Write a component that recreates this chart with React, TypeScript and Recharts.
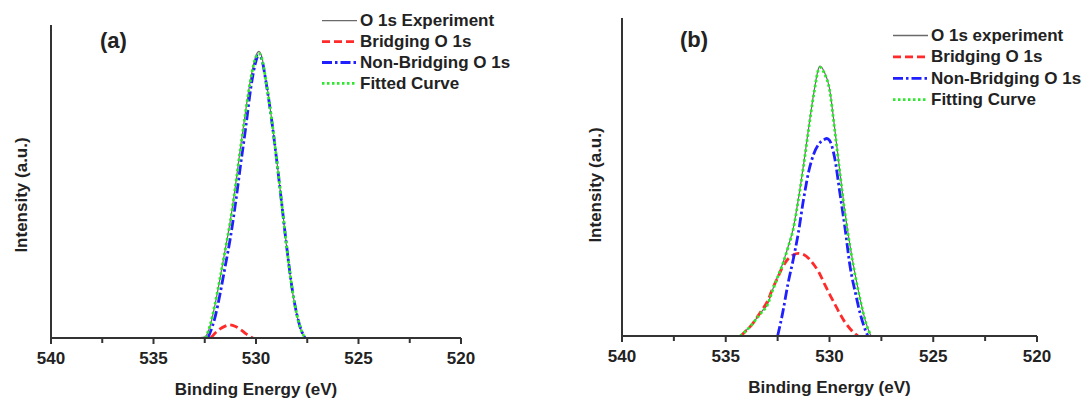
import React from 'react'
import { LineChart, Line, XAxis, YAxis } from 'recharts'

const FONT = '"Liberation Sans", Arial, sans-serif'
const INK = '#222'
const AXIS = '#333'

const xTicks = [540, 537.5, 535, 532.5, 530, 527.5, 525, 522.5, 520]
const majorTicks = [540, 535, 530, 525, 520]

// ---- panel (a) ----
const expEnergyA = [532.9, 532.6, 532.45, 532.25, 532, 531.75, 531.5, 531.25, 531, 530.75, 530.5, 530.25, 530, 529.85, 529.75, 529.5, 529.25, 529, 528.75, 528.5, 528.25, 528, 527.75, 527.6]
const expA = [0, 0.2, 0.6, 3.6, 10.6, 19.2, 28.3, 37.6, 48.8, 61.2, 72.8, 83.3, 90.3, 91.6, 90.6, 81.8, 70.6, 57.6, 43.2, 28.8, 16.1, 7.1, 1.7, 0]

const bridgingEnergyA = [532.2, 532, 531.75, 531.5, 531.3, 531, 530.75, 530.5, 530.16]
const bridgingA = [0, 1.5, 2.9, 3.8, 4.2, 3.7, 2.7, 1.4, 0]

const nonBridgingEnergyA = [532.35, 532.25, 532, 531.75, 531.5, 531.25, 531, 530.75, 530.5, 530.25, 530, 529.9, 529.75, 529.5, 529.25, 529, 528.75, 528.5, 528.25, 528, 527.75, 527.6]
const nonBridgingA = [0, 1.5, 6.6, 14.2, 23, 32, 43, 55.4, 67.3, 80, 88.5, 90.2, 89.5, 81.3, 70.3, 57.3, 43.2, 29, 16.3, 7.3, 1.8, 0]

const fitEnergyA = [532.45, 532.25, 532, 531.75, 531.5, 531.25, 531, 530.75, 530.5, 530.25, 530, 529.85, 529.75, 529.5, 529.25, 529, 528.75, 528.5, 528.25, 528, 527.75, 527.6]
const fitA = [0, 3.8, 10.8, 19.3, 28.2, 37.4, 48.6, 61, 72.5, 83, 89.8, 90.8, 90, 81.5, 70.5, 57.5, 43.3, 29, 16.3, 7.3, 1.8, 0]

// ---- panel (b) ----
const totalEnergyB = [534.3, 534, 533.75, 533.5, 533.25, 533, 532.75, 532.5, 532.25, 532, 531.75, 531.5, 531.25, 531, 530.75, 530.5, 530.45, 530.25, 530, 529.75, 529.5, 529.25, 529, 528.75, 528.5, 528.25, 528]
const expB = [0, 1.9, 3.6, 5.7, 7.8, 9.8, 14.4, 18.7, 22.9, 28.0, 33.8, 43.1, 53.9, 65.7, 76.7, 84.6, 84.9, 83.0, 77.9, 65.3, 51.7, 38.7, 28.0, 18.9, 11.0, 4.3, 0]
const fitB = [0, 1.8, 3.5, 5.6, 7.6, 9.6, 14.2, 18.5, 22.7, 27.8, 33.5, 42.8, 53.5, 65.3, 76.3, 84.2, 84.4, 82.6, 77.5, 64.8, 51.3, 38.3, 27.7, 18.6, 10.8, 4.2, 0]

const bridgingEnergyB = [534.27, 534, 533.75, 533.5, 533.25, 533, 532.75, 532.5, 532.25, 532, 531.75, 531.5, 531.25, 531, 530.75, 530.5, 530.25, 530, 529.75, 529.5, 529.25, 529, 528.75, 528.63]
const bridgingB = [0, 1.8, 3.5, 5.8, 8.2, 10.8, 14.8, 18.3, 21.8, 24.2, 25.5, 26, 25.6, 24.4, 22.4, 19.9, 16.5, 13.2, 10.1, 7, 4.3, 2.2, 0.6, 0]

const nonBridgingEnergyB = [532.5, 532.25, 532, 531.75, 531.5, 531.25, 531, 530.75, 530.5, 530.25, 530.13, 530, 529.75, 529.5, 529.25, 529, 528.75, 528.5, 528.25, 528.15]
const nonBridgingB = [0, 7.5, 16.5, 24, 32.5, 43, 51.8, 57.4, 60.5, 61.8, 62.1, 61.5, 56, 45, 33.8, 21.5, 13.5, 6.5, 1.5, 0]

const toPoints = (xs: number[], ys: number[]) => xs.map((e, i) => ({ e, v: ys[i] }))

type Series = { name: string; color: string; width: number; dash?: string; data: { e: number; v: number }[] }

const styles = {
  exp: { color: '#6a6a6a', width: 1.2 },
  bridging: { color: '#ff2a2a', width: 2.8, dash: '8 4' },
  nonBridging: { color: '#1f1fff', width: 2.8, dash: '10 3 2.5 3' },
  fit: { color: '#2ee82e', width: 2.8, dash: '2.5 2.5' },
}

const seriesA: Series[] = [
  { name: 'O 1s Experiment', ...styles.exp, data: toPoints(expEnergyA, expA) },
  { name: 'Bridging O 1s', ...styles.bridging, data: toPoints(bridgingEnergyA, bridgingA) },
  { name: 'Non-Bridging O 1s', ...styles.nonBridging, data: toPoints(nonBridgingEnergyA, nonBridgingA) },
  { name: 'Fitted Curve', ...styles.fit, data: toPoints(fitEnergyA, fitA) },
]

const seriesB: Series[] = [
  { name: 'O 1s experiment', ...styles.exp, data: toPoints(totalEnergyB, expB) },
  { name: 'Bridging O 1s', ...styles.bridging, data: toPoints(bridgingEnergyB, bridgingB) },
  { name: 'Non-Bridging O 1s', ...styles.nonBridging, data: toPoints(nonBridgingEnergyB, nonBridgingB) },
  { name: 'Fitting Curve', ...styles.fit, data: toPoints(totalEnergyB, fitB) },
]

interface PanelProps {
  left: number
  tag: string
  series: Series[]
  plotLeft: number
  plotRight: number
  plotTop: number
  plotBottom: number
  yLabel: { x: number; y: number }
  tagPos: { x: number; y: number }
  legend: { x: number; y: number; gap: number }
}

const W = 545
const H = 402

function Panel({ left, tag, series, plotLeft, plotRight, plotTop, plotBottom, yLabel, tagPos, legend }: PanelProps) {
  const axisY = plotBottom
  const renderTick = (props: any) => {
    const { x, payload } = props
    const major = majorTicks.includes(payload.value)
    return (
      <g>
        <line x1={x} x2={x} y1={axisY} y2={axisY + (major ? 6 : 5)} stroke={AXIS} strokeWidth={2} />
        {major && (
          <text x={x} y={axisY + 25.5} textAnchor="middle" fontSize={17} fontWeight="bold" fill={INK} fontFamily={FONT}>
            {payload.value}
          </text>
        )}
      </g>
    )
  }
  const midX = (plotLeft + plotRight) / 2
  return (
    <div style={{ position: 'absolute', left, top: 0, width: W, height: H }}>
      <LineChart width={W} height={H} margin={{ top: plotTop, right: W - plotRight, bottom: 0, left: 0 }}>
        <XAxis
          dataKey="e"
          type="number"
          domain={[520, 540]}
          reversed
          ticks={xTicks}
          interval={0}
          tick={renderTick}
          tickLine={false}
          axisLine={{ stroke: AXIS, strokeWidth: 2 }}
          height={H - plotBottom}
          allowDataOverflow
        />
        <YAxis
          type="number"
          domain={[0, 100]}
          tick={false}
          tickLine={false}
          width={plotLeft}
          axisLine={{ stroke: AXIS, strokeWidth: 2 }}
        />
        {series.map((s) => (
          <Line
            key={s.name}
            data={s.data}
            dataKey="v"
            type="monotone"
            stroke={s.color}
            strokeWidth={s.width}
            strokeDasharray={s.dash}
            dot={false}
            activeDot={false}
            isAnimationActive={false}
          />
        ))}
      </LineChart>
      <svg width={W} height={H} style={{ position: 'absolute', left: 0, top: 0, pointerEvents: 'none' }} fontFamily={FONT} fontWeight="bold" fill={INK}>
        <text x={tagPos.x} y={tagPos.y} fontSize={22}>{tag}</text>
        <text transform={`translate(${yLabel.x},${yLabel.y}) rotate(-90)`} textAnchor="middle" fontSize={17}>
          Intensity (a.u.)
        </text>
        <text x={midX} y={axisY + 57} textAnchor="middle" fontSize={17}>Binding Energy (eV)</text>
        {series.map((s, i) => {
          const y = legend.y + i * legend.gap
          return (
            <g key={s.name}>
              <line x1={legend.x} x2={legend.x + 35} y1={y} y2={y} stroke={s.color} strokeWidth={s.width < 2 ? 1.3 : 2.8} strokeDasharray={s.dash} />
              <text x={legend.x + 38} y={y} dominantBaseline="central" fontSize={17}>{s.name}</text>
            </g>
          )
        })}
      </svg>
    </div>
  )
}

export default function App() {
  return (
    <div style={{ position: 'absolute', left: 0, top: 0, width: 1090, height: H, background: '#fff' }}>
      <Panel
        left={0}
        tag="(a)"
        series={seriesA}
        plotLeft={51}
        plotRight={461}
        plotTop={25}
        plotBottom={338}
        yLabel={{ x: 27, y: 195 }}
        tagPos={{ x: 100, y: 48 }}
        legend={{ x: 322, y: 20.7, gap: 20.9 }}
      />
      <Panel
        left={545}
        tag="(b)"
        series={seriesB}
        plotLeft={77}
        plotRight={492}
        plotTop={18}
        plotBottom={336}
        yLabel={{ x: 56, y: 185 }}
        tagPos={{ x: 135, y: 47 }}
        legend={{ x: 348, y: 35.5, gap: 21.4 }}
      />
    </div>
  )
}
